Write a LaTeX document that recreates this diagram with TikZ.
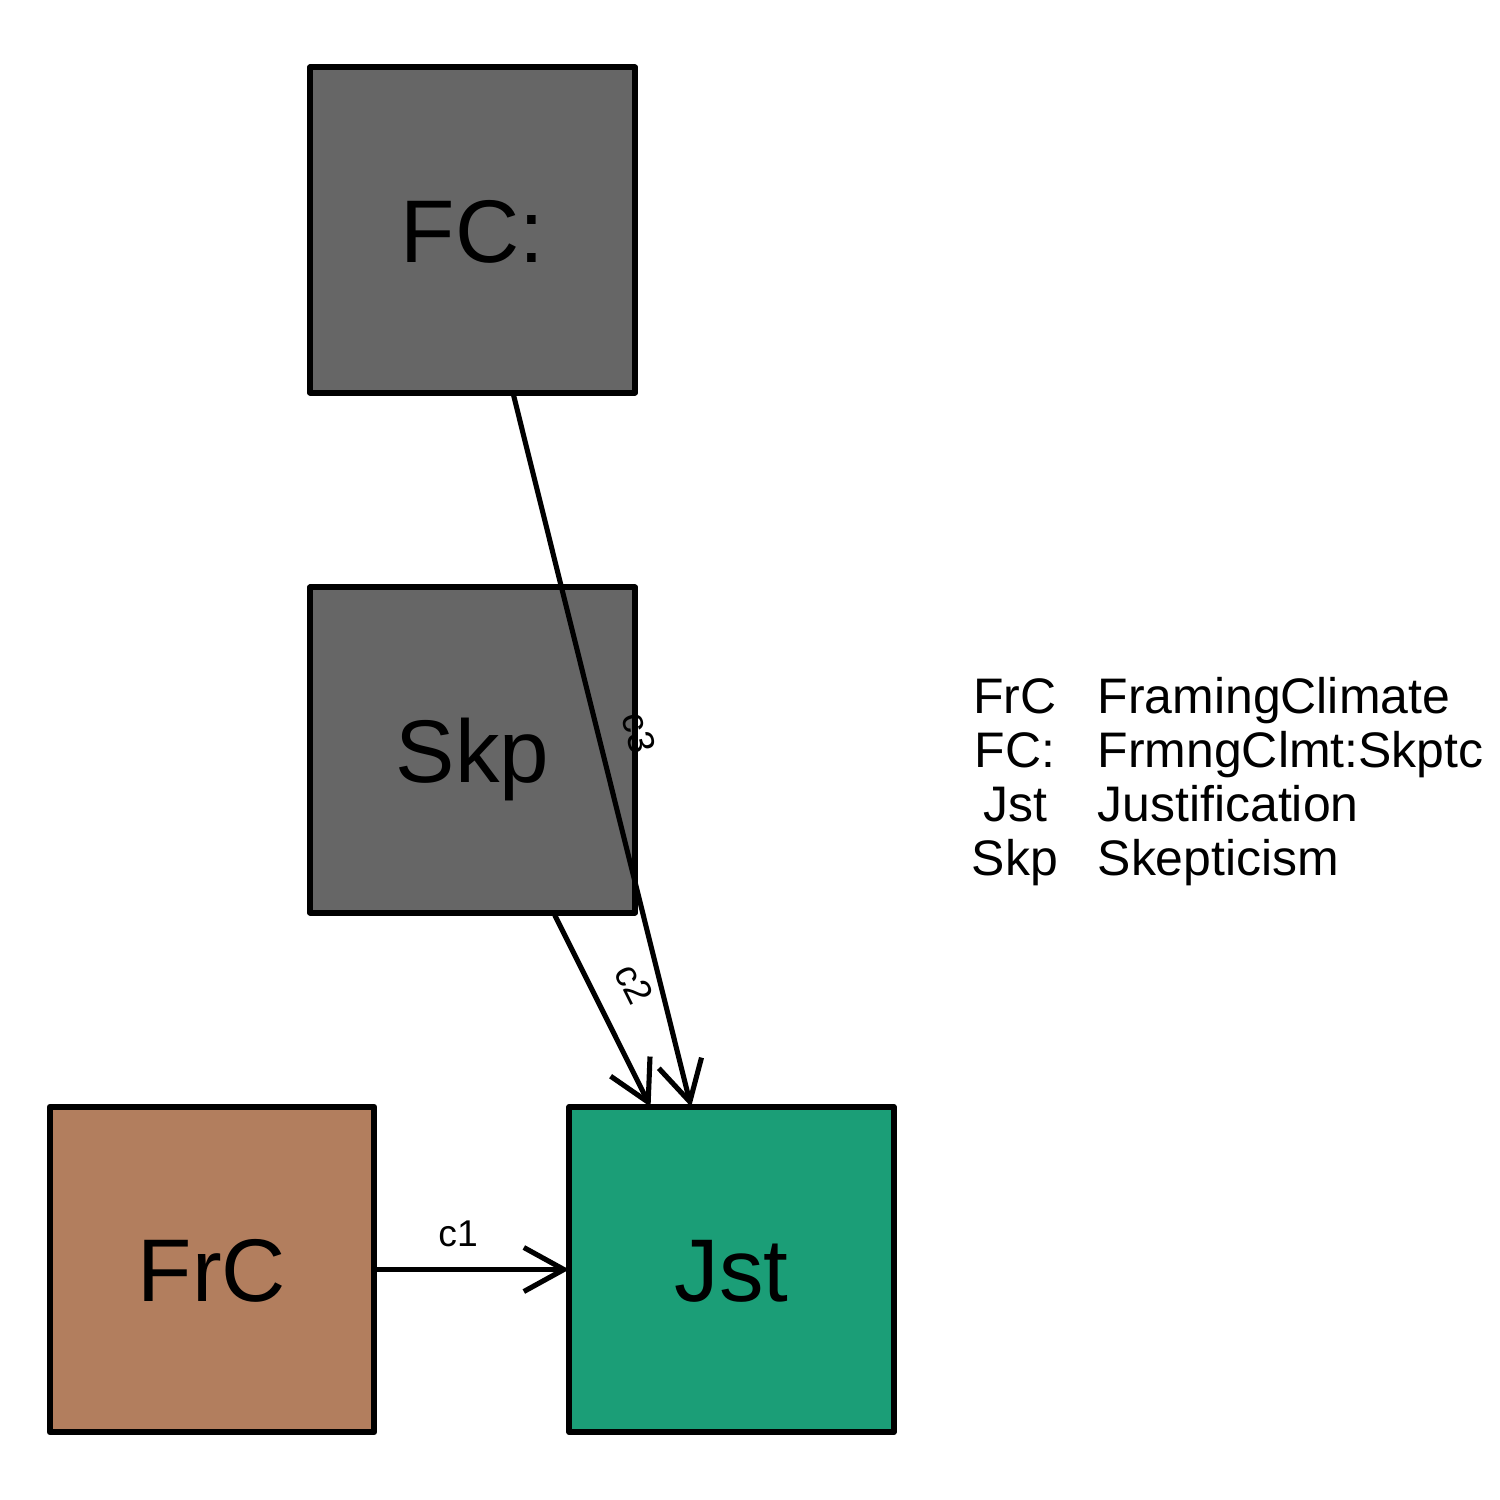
\documentclass[tikz,border=0pt]{standalone}
\usepackage{fontspec}
\setmainfont{Liberation Sans}
\usetikzlibrary{arrows.meta}
\definecolor{boxgray}{HTML}{666666}
\definecolor{boxbrown}{HTML}{B27E5E}
\definecolor{boxgreen}{HTML}{1B9E77}
\tikzset{
  varbox/.style={draw=black, line width=1.7pt, line join=round, minimum width=3.245cm, minimum height=3.25cm, inner sep=0pt, outer sep=0pt},
  boxtext/.style={anchor=base, inner sep=0pt, font=\fontsize{25.3pt}{30pt}\selectfont},
  edgeline/.style={line width=1.45pt, -{Straight Barb[length=0.4cm, width=0.44cm, line width=1.45pt]}},
  edgelabel/.style={font=\fontsize{10.6pt}{12pt}\selectfont, inner sep=0pt, sloped},
  legabbr/.style={anchor=base, inner sep=0pt, font=\fontsize{14.2pt}{17pt}\selectfont},
  legname/.style={anchor=base west, inner sep=0pt, font=\fontsize{14.2pt}{17pt}\selectfont}
}
\begin{document}
\begin{tikzpicture}[x=0.01cm, y=-0.01cm]
\useasboundingbox[fill=white] (0,0) rectangle (1500,1500);
% boxes
\node[varbox, fill=boxgray] (FC) at (472.5,230) {};
\node[varbox, fill=boxgray] (Skp) at (472.5,750) {};
\node[varbox, fill=boxbrown] (FrC) at (212,1269.5) {};
\node[varbox, fill=boxgreen] (Jst) at (731.5,1269.5) {};
\node[boxtext] (tFC) at (472.5,262) {FC:};
\node[boxtext] (tSkp) at (472.5,782) {Skp};
\node[boxtext] (tFrC) at (212,1301.5) {FrC};
\node[boxtext] (tJst) at (731.5,1301.5) {Jst};
% edges
\draw[edgeline] (FrC) -- node[edgelabel, pos=0.43, above=5.8pt] (lc1) {c1} (Jst);
\draw[edgeline] (Skp) -- node[edgelabel, pos=0.46, above=6.9pt] (lc2) {c2} (Jst);
\draw[edgeline] (FC) -- node[edgelabel, pos=0.49, above=6.9pt] (lc3) {c3} (Jst);
% legend
\node[legabbr] (a1) at (1015,713) {FrC};
\node[legabbr] (a2) at (1015,767) {FC:};
\node[legabbr] (a3) at (1015,821) {Jst};
\node[legabbr] (a4) at (1015,875) {Skp};
\node[legname] (n1) at (1097,713) {FramingClimate};
\node[legname] (n2) at (1097,767) {FrmngClmt:Skptc};
\node[legname] (n3) at (1097,821) {Justification};
\node[legname] (n4) at (1097,875) {Skepticism};
\end{tikzpicture}
\end{document}
